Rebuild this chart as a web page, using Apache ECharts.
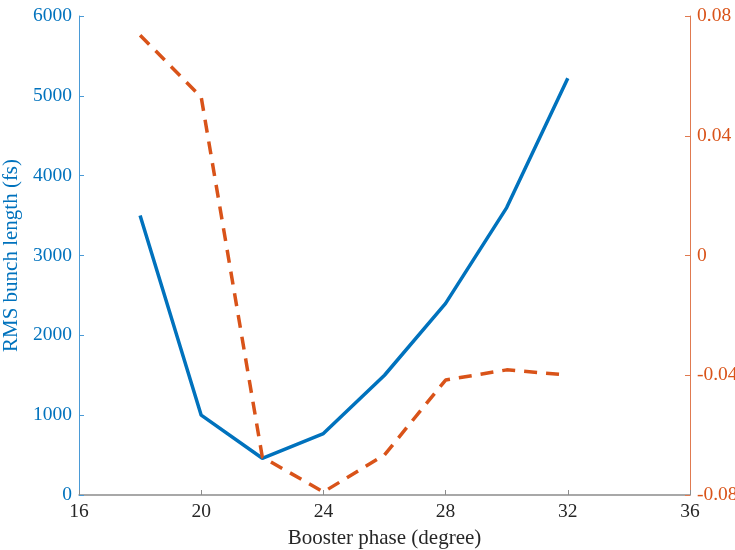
<!DOCTYPE html>
<html>
<head>
<meta charset="utf-8">
<script src="https://cdn.jsdelivr.net/npm/echarts@6/dist/echarts.min.js"></script>
<style>
  html, body { margin: 0; padding: 0; background: #fff; }
  #chart { width: 735px; height: 550px; }
</style>
</head>
<body>
<div id="chart"></div>
<script>
// values
const phases = [18, 20, 22, 24, 26, 28, 30, 32];
const bunchLength = [3500, 1000, 460, 770, 1500, 2400, 3600, 5220];
const rightSeries = [0.0736, 0.0529, -0.0673, -0.079, -0.0666, -0.0416, -0.0382, -0.0399];

const blue = '#0072BD';
const orange = '#D95319';
const font = 'Liberation Serif, Times New Roman, serif';

const chart = echarts.init(document.getElementById('chart'));

const option = {
  backgroundColor: '#fff',
  animation: false,
  grid: { left: 79, right: 45, top: 16, bottom: 55, outerBoundsMode: 'none', containLabel: false },
  xAxis: {
    type: 'value',
    min: 16,
    max: 36,
    interval: 4,
    name: 'Booster phase (degree)',
    nameLocation: 'middle',
    nameGap: 33,
    nameTextStyle: { color: '#262626', fontFamily: font, fontSize: 21 },
    axisLine: { lineStyle: { color: '#8c8c8c', width: 1.5 } },
    axisTick: { inside: true, length: 5, lineStyle: { color: '#8c8c8c' } },
    axisLabel: { color: '#262626', fontFamily: font, fontSize: 19.5, margin: 7 },
    splitLine: { show: false },
  },
  yAxis: [
    {
      type: 'value',
      min: 0,
      max: 6000,
      interval: 1000,
      name: 'RMS bunch length (fs)',
      nameLocation: 'middle',
      nameGap: 54,
      nameTextStyle: { color: blue, fontFamily: font, fontSize: 21 },
      axisLine: { show: true, lineStyle: { color: '#4a9ad6', width: 1 } },
      axisTick: { show: true, inside: true, length: 5, lineStyle: { color: '#4a9ad6' } },
      axisLabel: { color: blue, fontFamily: font, fontSize: 19.5, margin: 7, formatter: (v) => String(v) },
      splitLine: { show: false },
    },
    {
      type: 'value',
      min: -0.08,
      max: 0.08,
      interval: 0.04,
      position: 'right',
      axisLine: { show: true, lineStyle: { color: '#e07a50', width: 1 } },
      axisTick: { show: true, inside: true, length: 5, lineStyle: { color: '#e07a50' } },
      axisLabel: {
        color: orange,
        fontFamily: font,
        fontSize: 19.5,
        margin: 7,
        formatter: (v) => (Math.abs(v) < 1e-9 ? '0' : v.toFixed(2)),
      },
      splitLine: { show: false },
    },
  ],
  series: [
    {
      type: 'line',
      yAxisIndex: 0,
      data: phases.map((p, i) => [p, bunchLength[i]]),
      showSymbol: false,
      lineStyle: { color: blue, width: 3.5 },
      z: 2,
    },
    {
      type: 'line',
      yAxisIndex: 1,
      data: phases.map((p, i) => [p, rightSeries[i]]),
      showSymbol: false,
      lineStyle: { color: orange, width: 3.5, type: [13, 9] },
      z: 3,
    },
  ],
};

chart.setOption(option);
</script>
</body>
</html>
